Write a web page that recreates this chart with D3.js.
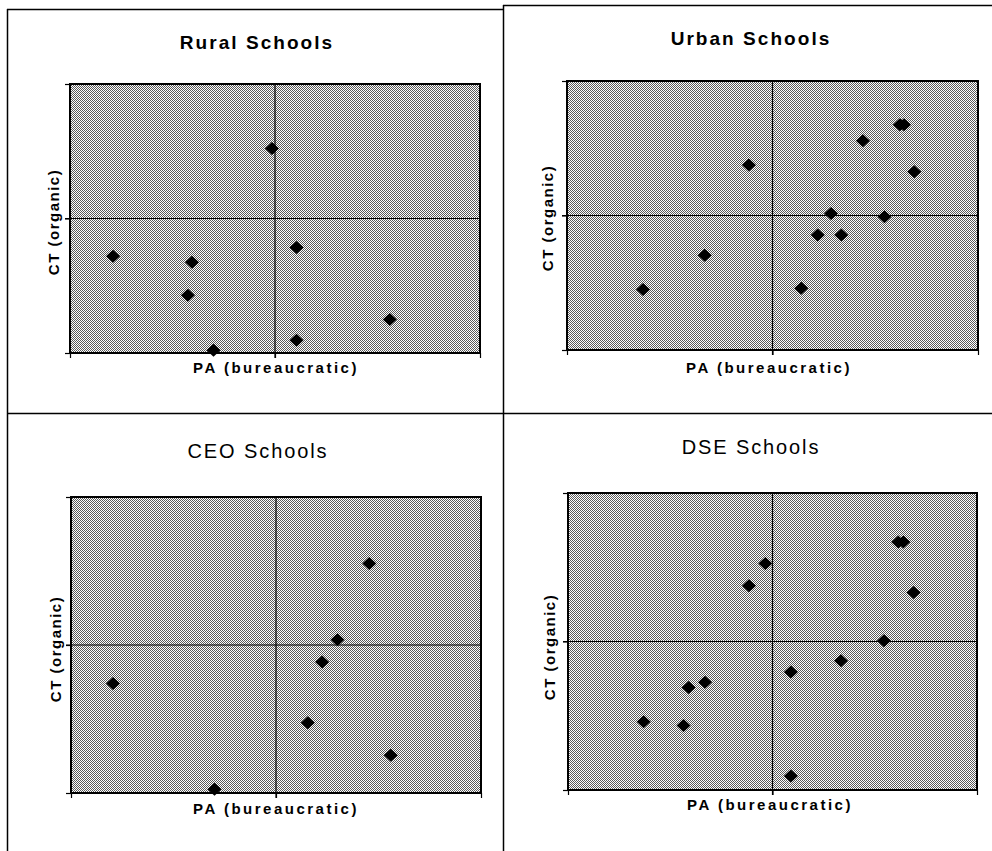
<!DOCTYPE html>
<html><head><meta charset="utf-8">
<script src="https://cdn.jsdelivr.net/npm/d3@7"></script>
<style>
body{margin:0;background:#fff}
svg{display:block}
text{font-family:Arial,"Liberation Sans",sans-serif;fill:#000}
</style>
</head><body>
<svg id="chart" width="992" height="851"></svg>
<script>
// ---- data ----
const titles = ["Rural Schools", "Urban Schools", "CEO Schools", "DSE Schools"];
const xAxisLabel = "PA (bureaucratic)";
const yAxisLabel = "CT (organic)";
const axisTicks = [-2, 0, 2];

const ruralPA = [-1.58, -0.81, -0.85, -0.60, -0.03, 0.21, 0.21, 1.12];
const ruralCT = [-0.56, -0.65, -1.14, -1.96, 1.04, -0.43, -1.81, -1.50];

const urbanPA = [-1.26, -0.66, -0.23, 0.28, 0.44, 0.57, 0.67, 0.88, 1.09, 1.24, 1.28, 1.38];
const urbanCT = [-1.10, -0.59, 0.75, -1.08, -0.29, 0.03, -0.29, 1.11, -0.02, 1.35, 1.35, 0.65];

const ceoPA = [-1.59, -0.60, 0.31, 0.45, 0.60, 0.91, 1.12];
const ceoCT = [-0.52, -1.95, -1.05, -0.23, 0.07, 1.10, -1.49];

const dsePA = [-1.26, -0.87, -0.82, -0.66, -0.23, -0.07, 0.18, 0.18, 0.67, 1.09, 1.23, 1.28, 1.38];
const dseCT = [-1.08, -1.13, -0.62, -0.55, 0.75, 1.05, -0.41, -1.81, -0.26, 0.01, 1.34, 1.34, 0.66];

const seriesPA = [ruralPA, urbanPA, ceoPA, dsePA];
const seriesCT = [ruralCT, urbanCT, ceoCT, dseCT];

// ---- layout ----
const layout = [
  {plot:{l:70,t:84,r:480,b:353}, title:{x:257,y:49,w:"bold",size:19,ls:2.05}, xl:{x:276,y:373}, yl:{x:59,y:222}},
  {plot:{l:567,t:81,r:978,b:350}, title:{x:751,y:45,w:"bold",size:19,ls:2.05}, xl:{x:769,y:373}, yl:{x:553,y:218}},
  {plot:{l:71,t:497,r:481,b:793}, title:{x:258,y:458,w:"normal",size:20,ls:1.9}, xl:{x:276,y:814}, yl:{x:61,y:649}},
  {plot:{l:568,t:493,r:977,b:790}, title:{x:751,y:454,w:"normal",size:20,ls:1.9}, xl:{x:770,y:810}, yl:{x:555,y:647}}
];

const svg = d3.select("#chart");
const defs = svg.append("defs");
const pat = defs.append("pattern").attr("id","dither")
  .attr("width",2).attr("height",2).attr("patternUnits","userSpaceOnUse");
pat.append("rect").attr("width",2).attr("height",2).attr("fill","#fff");
pat.append("rect").attr("x",0).attr("y",0).attr("width",1).attr("height",1).attr("fill","#5a5a5a");
pat.append("rect").attr("x",1).attr("y",1).attr("width",1).attr("height",1).attr("fill","#5a5a5a");

// frame lines
const frame = svg.append("g").attr("stroke","#000").attr("stroke-width",1.5).attr("fill","none");
frame.append("line").attr("x1",7.5).attr("y1",9).attr("x2",7.5).attr("y2",851);
frame.append("line").attr("x1",7).attr("y1",9.5).attr("x2",503).attr("y2",9.5);
frame.append("line").attr("x1",503).attr("y1",5.5).attr("x2",992).attr("y2",5.5);
frame.append("line").attr("x1",503.5).attr("y1",5).attr("x2",503.5).attr("y2",851);
frame.append("line").attr("x1",7).attr("y1",413.5).attr("x2",992).attr("y2",413.5);

const diamond = "M0,-6.5L7,0L0,6.5L-7,0Z";

layout.forEach((L, i) => {
  const p = L.plot;
  const x = d3.scaleLinear().domain([-2, 2]).range([p.l, p.r]);
  const y = d3.scaleLinear().domain([-2, 2]).range([p.b, p.t]);
  const g = svg.append("g");

  g.append("rect").attr("x",p.l).attr("y",p.t).attr("width",p.r-p.l).attr("height",p.b-p.t)
    .attr("fill","url(#dither)");

  // midlines
  g.append("line").attr("x1",x(0)).attr("x2",x(0)).attr("y1",p.t).attr("y2",p.b+5)
    .attr("stroke","#000").attr("stroke-width",1.2);
  g.append("line").attr("x1",p.l-5).attr("x2",p.r).attr("y1",y(0)).attr("y2",y(0))
    .attr("stroke","#000").attr("stroke-width",1.2);

  // axes (ticks only)
  const xa = g.append("g").attr("transform",`translate(0,${p.b})`)
    .call(d3.axisBottom(x).tickValues(axisTicks).tickSize(5).tickFormat(""));
  const ya = g.append("g").attr("transform",`translate(${p.l},0)`)
    .call(d3.axisLeft(y).tickValues(axisTicks).tickSize(5).tickFormat(""));
  [xa, ya].forEach(a => { a.select(".domain").remove(); a.selectAll("line").attr("stroke","#000").attr("stroke-width",1.2); });

  // border
  g.append("rect").attr("x",p.l).attr("y",p.t).attr("width",p.r-p.l).attr("height",p.b-p.t)
    .attr("fill","none").attr("stroke","#000").attr("stroke-width",2);

  // points
  const pts = seriesPA[i].map((v, k) => ({pa: v, ct: seriesCT[i][k]}));
  g.selectAll("path.pt").data(pts).join("path").attr("class","pt")
    .attr("d", diamond)
    .attr("transform", d => `translate(${x(d.pa)},${y(d.ct)})`)
    .attr("fill","#000");

  // texts
  g.append("text").attr("x",L.title.x).attr("y",L.title.y).attr("text-anchor","middle")
    .attr("font-size",L.title.size).attr("font-weight",L.title.w).attr("letter-spacing",L.title.ls)
    .text(titles[i]);
  g.append("text").attr("x",L.xl.x).attr("y",L.xl.y).attr("text-anchor","middle")
    .attr("font-size",15).attr("font-weight","bold").attr("letter-spacing",2.5)
    .text(xAxisLabel);
  g.append("text").attr("transform",`translate(${L.yl.x},${L.yl.y}) rotate(-90)`)
    .attr("text-anchor","middle")
    .attr("font-size",15).attr("font-weight","bold").attr("letter-spacing",1.5)
    .text(yAxisLabel);
});
</script>
</body></html>
